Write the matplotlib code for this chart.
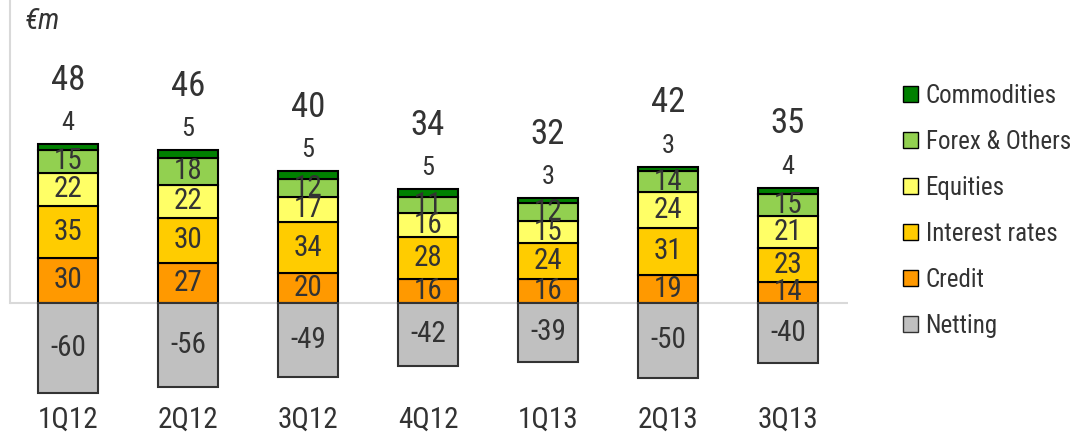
import matplotlib.pyplot as plt
from matplotlib.patches import Patch

quarters = ["1Q12", "2Q12", "3Q12", "4Q12", "1Q13", "2Q13", "3Q13"]
credit = [30, 27, 20, 16, 16, 19, 14]
rates = [35, 30, 34, 28, 24, 31, 23]
equities = [22, 22, 17, 16, 15, 24, 21]
forex = [15, 18, 12, 11, 12, 14, 15]
commodities = [4, 5, 5, 5, 3, 3, 4]
netting = [-60, -56, -49, -42, -39, -50, -40]
totals = [48, 46, 40, 34, 32, 42, 35]

plt.rcParams['font.family'] = ['Roboto Condensed', 'DejaVu Sans']
txt = '#333333'

fig = plt.figure(figsize=(10.74, 4.38), dpi=100)
ax = fig.add_axes([10/1074, 0, 838/1074, 1])
ax.set_xlim(-0.483, 6.5)
ax.set_ylim(-90, 202)

x = list(range(len(quarters)))
w = 0.5
series = [
	("Credit", credit, '#FF9900'),
	("Interest rates", rates, '#FFCC00'),
	("Equities", equities, '#FFFF66'),
	("Forex & Others", forex, '#92D050'),
	("Commodities", commodities, '#008000'),
]

bottom = [0]*len(x)
for name, vals, col in series:
	ax.bar(x, vals, w, bottom=bottom, color=col, edgecolor='black', linewidth=1.5, zorder=3)
	if name != "Commodities":
		for i in x:
			ax.text(i, bottom[i] + vals[i]/2, str(vals[i]), ha='center', va='center',
				fontsize=21, color=txt, zorder=4)
	bottom = [b + v for b, v in zip(bottom, vals)]

ax.bar(x, netting, w, color='#C0C0C0', edgecolor='#333333', linewidth=1.5, zorder=3)
for i in x:
	ax.text(i, netting[i]/2, str(netting[i]), ha='center', va='center', fontsize=21, color=txt)
	ax.annotate(str(commodities[i]), (i, bottom[i]), xytext=(0, 15), textcoords='offset points',
		ha='center', va='center', fontsize=19, color=txt)
	ax.annotate(str(totals[i]), (i, bottom[i]), xytext=(0, 46), textcoords='offset points',
		ha='center', va='center', fontsize=25, color=txt)
	ax.text(i, -78, quarters[i], ha='center', va='center', fontsize=21, color=txt)

ax.axhline(0, color='#D9D9D9', linewidth=1.5, zorder=1)
for s in ['top', 'right', 'bottom']:
	ax.spines[s].set_visible(False)
ax.spines['left'].set_bounds(0, 202)
ax.spines['left'].set_color('#D9D9D9')
ax.spines['left'].set_linewidth(1.5)
ax.set_xticks([])
ax.set_yticks([])
ax.patch.set_visible(False)

ax.text(0.018, 0.953, "€m", transform=ax.transAxes, fontsize=21, style='italic', color=txt,
	ha='left', va='center')

handles = [Patch(facecolor=c, edgecolor='black', label=n) for n, v, c in reversed(series)]
handles.append(Patch(facecolor='#C0C0C0', edgecolor='#333333', label='Netting'))
fig.legend(handles=handles, loc='upper left', bbox_to_anchor=(893/1074, 1 - 74/438),
	frameon=False, fontsize=18, labelcolor=txt, handlelength=0.6, handleheight=0.6,
	handletextpad=0.3, labelspacing=0.88, borderaxespad=0)

fig.savefig('out.png', dpi=100)
